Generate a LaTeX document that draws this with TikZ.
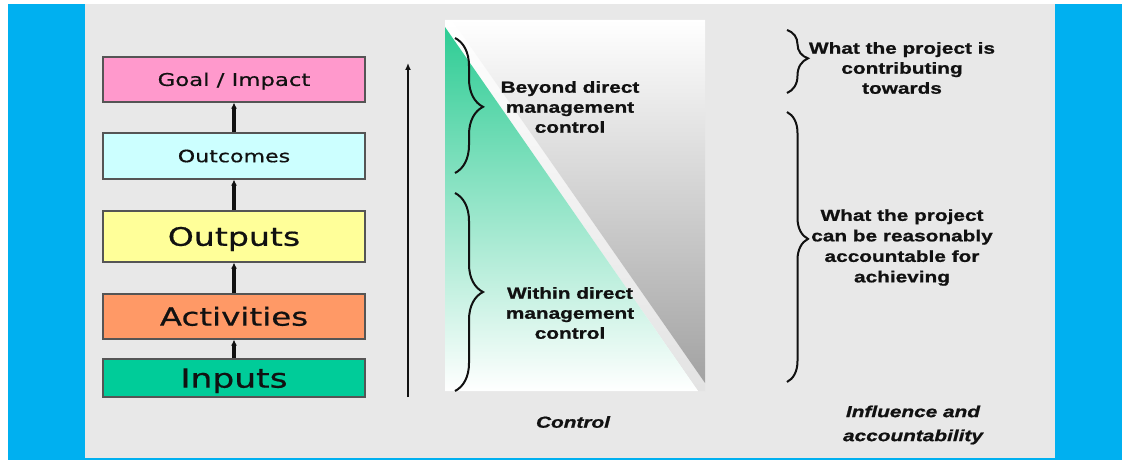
\documentclass[tikz,border=0pt]{standalone}
\usepackage{fontspec}
\usetikzlibrary{decorations.pathreplacing,arrows.meta}
\newfontfamily\boxfont[FakeStretch=1.3, FakeBold=0.6]{DejaVu Sans}
\newfontfamily\labfont[FakeStretch=1.3, BoldFeatures={FakeStretch=1.3, FakeBold=1}, BoldItalicFeatures={FakeStretch=1.3, FakeBold=1}]{Liberation Sans}
\definecolor{bgblue}{HTML}{00B0F0}
\definecolor{panel}{HTML}{E8E8E8}
\definecolor{goalc}{HTML}{FF99CC}
\definecolor{outcc}{HTML}{CCFFFF}
\definecolor{outpc}{HTML}{FFFF99}
\definecolor{actc}{HTML}{FF9966}
\definecolor{inpc}{HTML}{00CC99}
\definecolor{greentop}{HTML}{2ECC94}
\definecolor{graybot}{HTML}{A2A2A2}
\definecolor{ink}{HTML}{111111}
\definecolor{boxline}{HTML}{555555}
\tikzset{
  chainbox/.style={draw=boxline, line width=1.2pt, minimum width=262pt, inner sep=0pt, text=ink, text depth=0pt},
  uparrow/.style={-{Latex[length=6pt,width=6pt]}, line width=3.2pt, ink},
  bold16/.style={font=\labfont\bfseries\fontsize{16}{20}\selectfont, align=center, text=ink, inner sep=0pt},
  bracelarge/.style={decorate, decoration={brace, amplitude=28pt, aspect=#1}, line width=2pt, ink},
  bracesmall/.style={decorate, decoration={brace, amplitude=21pt, aspect=#1}, line width=2pt, ink}
}
\begin{document}
\begin{tikzpicture}[x=1pt,y=-1pt]
\useasboundingbox (0,0) rectangle (1122,460);
\fill[white] (0,0) rectangle (1122,460);
\fill[bgblue] (8,4) rectangle (85,460);
\fill[panel] (85,4) rectangle (1055,458);
\fill[bgblue] (85,457.5) rectangle (1055,460);
\fill[bgblue] (1055,4) rectangle (1122,460);

% left chain
\node[chainbox, fill=goalc, minimum height=45pt, text height=12.8pt, font=\boxfont\fontsize{17.5}{20}\selectfont] (goal) at (234,79.5) {Goal / Impact};
\node[chainbox, fill=outcc, minimum height=46pt, text height=12.4pt, font=\boxfont\fontsize{17}{20}\selectfont] (outc) at (234,156) {Outcomes};
\node[chainbox, fill=outpc, minimum height=51pt, text height=18.6pt, font=\boxfont\fontsize{25.5}{28}\selectfont] (outp) at (234,236.5) {Outputs};
\node[chainbox, fill=actc, minimum height=45pt, text height=18.3pt, font=\boxfont\fontsize{25}{28}\selectfont] (act) at (234,316.5) {Activities};
\node[chainbox, fill=inpc, minimum height=38pt, text height=19.3pt, font=\boxfont\fontsize{26.5}{28}\selectfont] (inp) at (234,378) {Inputs};
\draw[uparrow] (inp.north) -- (act.south);
\draw[uparrow] (act.north) -- (outp.south);
\draw[uparrow] (outp.north) -- (outc.south);
\draw[uparrow] (outc.north) -- (goal.south);

% big arrow
\coordinate (ba) at (408,397);
\coordinate (bb) at (408,63);
\draw[-{Latex[length=7pt,width=6pt]}, line width=2.4pt, ink] (ba) -- (bb);

% control panel
\fill[white] (445,20) rectangle (705,391);
\shade[top color=white, bottom color=gray!22] (445,20) -- (452,20) -- (705,383) -- (705,391) -- (698,391) -- (445,27) -- cycle;
\shade[top color=greentop, bottom color=white, middle color=greentop!50] (445,27) -- (445,391) -- (698,391) -- cycle;
\shade[top color=white, bottom color=graybot] (452,20) -- (705,20) -- (705,383) -- cycle;

\draw[bracelarge=0.51] (455,38) -- (455,173);
\draw[bracelarge=0.5] (455,193) -- (455,391);

\node[bold16] (beyond) at (570,107) {Beyond direct\\management\\control};
\node[bold16] (within) at (570,313) {Within direct\\management\\control};
\node[bold16, font=\labfont\bfseries\itshape\fontsize{16}{20}\selectfont] (control) at (573,422) {Control};

% right column
\draw[bracesmall=0.45] (787,30) -- (787,93);
\draw[bracesmall=0.47] (787,112) -- (787,382);
\node[bold16] (contrib) at (902,68) {What the project is\\contributing\\towards};
\node[bold16, font=\labfont\bfseries\fontsize{16}{20.5}\selectfont] (account) at (902,247.5) {What the project\\can be reasonably\\accountable for\\achieving};
\node[bold16, font=\labfont\bfseries\itshape\fontsize{16}{24}\selectfont] (influence) at (913,425) {Influence and\\accountability};
\end{tikzpicture}
\end{document}
